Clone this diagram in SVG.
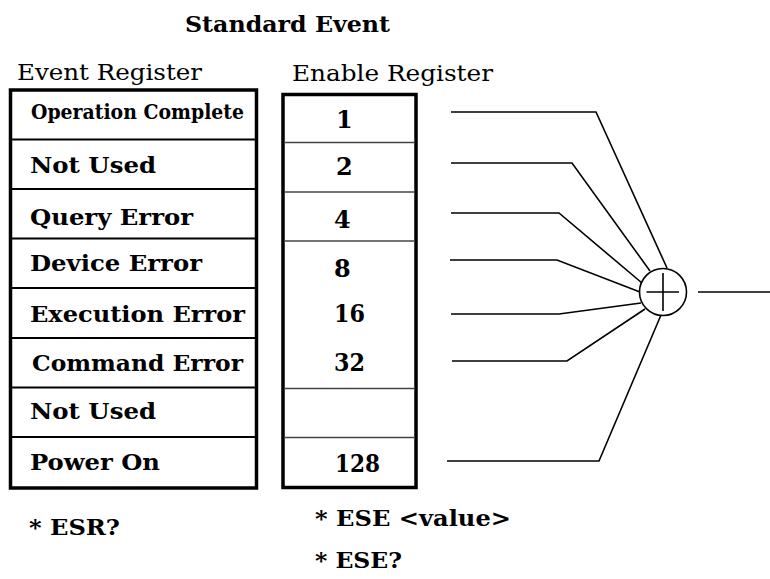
<svg xmlns="http://www.w3.org/2000/svg" width="770" height="579" viewBox="0 0 770 579">
<style>
  .t { font-family: "DejaVu Serif", "Liberation Serif", serif; fill: #000; }
  .b { font-weight: bold; }
  .row { font-size: 23px; font-weight: bold; }
  .num { font-size: 24px; font-weight: bold; }
  .hdr { font-size: 22px; }
  .box { fill: #fff; stroke: #000; stroke-width: 3.5; }
  .div1 { stroke: #000; stroke-width: 2; }
  .div2 { stroke: #444; stroke-width: 1.3; }
  .wire { fill: none; stroke: #000; stroke-width: 1.6; }
</style>
<rect width="770" height="579" fill="#fff"/>

<text class="t b" x="185" y="32" font-size="23" textLength="205" lengthAdjust="spacingAndGlyphs">Standard Event</text>

<g id="event-register">
  <text class="t hdr" x="17" y="80" textLength="185" lengthAdjust="spacingAndGlyphs">Event Register</text>
  <rect class="box" x="10.5" y="90" width="246" height="398"/>
  <line class="div1" x1="10" y1="139.5" x2="257" y2="139.5"/>
  <line class="div1" x1="10" y1="189" x2="257" y2="189"/>
  <line class="div1" x1="10" y1="238.5" x2="257" y2="238.5"/>
  <line class="div1" x1="10" y1="288" x2="257" y2="288"/>
  <line class="div1" x1="10" y1="338" x2="257" y2="338"/>
  <line class="div1" x1="10" y1="387.5" x2="257" y2="387.5"/>
  <line class="div1" x1="10" y1="437" x2="257" y2="437"/>
  <text class="t b" x="31" y="119" font-size="21" textLength="213" lengthAdjust="spacingAndGlyphs">Operation Complete</text>
  <text class="t row" x="30" y="173" textLength="126" lengthAdjust="spacingAndGlyphs">Not Used</text>
  <text class="t row" x="30" y="225" textLength="163" lengthAdjust="spacingAndGlyphs">Query Error</text>
  <text class="t row" x="30" y="271" textLength="172" lengthAdjust="spacingAndGlyphs">Device Error</text>
  <text class="t row" x="30" y="322" textLength="215" lengthAdjust="spacingAndGlyphs">Execution Error</text>
  <text class="t row" x="32" y="371" textLength="211" lengthAdjust="spacingAndGlyphs">Command Error</text>
  <text class="t row" x="30" y="419" textLength="126" lengthAdjust="spacingAndGlyphs">Not Used</text>
  <text class="t row" x="30" y="470" textLength="130" lengthAdjust="spacingAndGlyphs">Power On</text>
  <text class="t row" x="29" y="535" textLength="91" lengthAdjust="spacingAndGlyphs">* ESR?</text>
</g>

<g id="enable-register">
  <text class="t hdr" x="292" y="80.5" textLength="201" lengthAdjust="spacingAndGlyphs">Enable Register</text>
  <rect class="box" x="283" y="94.5" width="133" height="393"/>
  <line class="div2" x1="284" y1="142.5" x2="415" y2="142.5"/>
  <line class="div2" x1="284" y1="192" x2="415" y2="192"/>
  <line class="div2" x1="284" y1="241" x2="415" y2="241"/>
  <line class="div2" x1="284" y1="388.5" x2="415" y2="388.5"/>
  <line class="div2" x1="284" y1="437.5" x2="415" y2="437.5"/>
  <text class="t num" x="336" y="128">1</text>
  <text class="t num" x="336" y="175">2</text>
  <text class="t num" x="334" y="228">4</text>
  <text class="t num" x="334" y="277">8</text>
  <text class="t num" x="334" y="322" textLength="31" lengthAdjust="spacingAndGlyphs">16</text>
  <text class="t num" x="334" y="371" textLength="31" lengthAdjust="spacingAndGlyphs">32</text>
  <text class="t num" x="335" y="472" textLength="45" lengthAdjust="spacingAndGlyphs">128</text>
  <text class="t row" x="315" y="526" textLength="196" lengthAdjust="spacingAndGlyphs">* ESE &lt;value&gt;</text>
  <text class="t row" x="315" y="568" textLength="87" lengthAdjust="spacingAndGlyphs">* ESE?</text>
</g>

<g id="summing-node">
  <circle cx="663" cy="292" r="23.5" fill="#fff" stroke="#000" stroke-width="1.6"/>
  <line x1="646.5" y1="292" x2="679" y2="292" stroke="#000" stroke-width="1.6"/>
  <line x1="663" y1="273" x2="663" y2="311" stroke="#000" stroke-width="1.6"/>
</g>

<g id="connectors">
  <polyline class="wire" points="451,112 596,112 667,268"/>
  <polyline class="wire" points="451,163 572,163 650,271"/>
  <polyline class="wire" points="451,213 559,213 642,283"/>
  <polyline class="wire" points="450,260 557,260 640,292"/>
  <polyline class="wire" points="451,314 559,314 641,303"/>
  <polyline class="wire" points="452,361 567,361 645,309"/>
  <polyline class="wire" points="447,461 599,461 661,315"/>
  <line class="wire" x1="698" y1="292" x2="770" y2="292"/>
</g>
</svg>
